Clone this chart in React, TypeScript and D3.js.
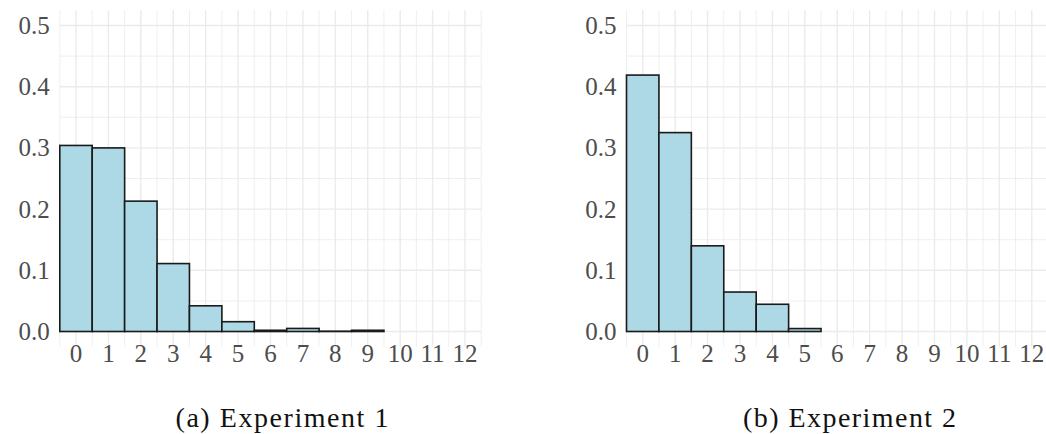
import React from "react";
import { scaleLinear, range } from "d3";

const bins = [0, 1, 2, 3, 4, 5, 6, 7, 8, 9, 10, 11, 12];
const exp1 = [0.304, 0.3, 0.213, 0.111, 0.042, 0.016, 0.002, 0.005, 0.0005, 0.002, 0, 0, 0];
const exp2 = [0.419, 0.325, 0.14, 0.0645, 0.0445, 0.0048, 0, 0, 0, 0, 0, 0, 0];
const yTicks = [0, 0.1, 0.2, 0.3, 0.4, 0.5];
const captions = ["(a) Experiment 1", "(b) Experiment 2"];

const W = 1046;
const H = 434;
const FONT = '"Liberation Serif", "Times New Roman", serif';
const GRID = "#ebebeb";

function Panel({ values, left, right }) {
  const x = scaleLinear().domain([-0.5, 12.5]).range([left, right]);
  const y = scaleLinear().domain([-0.025, 0.525]).range([346.8, 10.2]);
  const [y0, y1] = y.range();
  const minorX = range(-0.5, 13, 1);
  const minorY = range(0.05, 0.5, 0.1);

  return (
    <g>
      {minorY.map((v) => (
        <line key={"my" + v} x1={left} x2={right} y1={y(v)} y2={y(v)} stroke={GRID} strokeWidth={0.8} />
      ))}
      {minorX.map((v) => (
        <line key={"mx" + v} x1={x(v)} x2={x(v)} y1={y1} y2={y0} stroke={GRID} strokeWidth={0.8} />
      ))}
      {yTicks.map((v) => (
        <line key={"gy" + v} x1={left} x2={right} y1={y(v)} y2={y(v)} stroke={GRID} strokeWidth={1.4} />
      ))}
      {bins.map((b) => (
        <line key={"gx" + b} x1={x(b)} x2={x(b)} y1={y1} y2={y0} stroke={GRID} strokeWidth={1.4} />
      ))}

      {bins.map((b, i) =>
        values[i] > 0 ? (
          <rect
            key={"bar" + b}
            x={x(b - 0.5)}
            y={y(values[i])}
            width={x(b + 0.5) - x(b - 0.5)}
            height={y(0) - y(values[i])}
            fill="#ADD8E6"
            stroke="#1a1a1a"
            strokeWidth={1.6}
          />
        ) : null
      )}

      {yTicks.map((v) => (
        <text
          key={"ty" + v}
          x={left - 10}
          y={y(v)}
          dy="0.34em"
          textAnchor="end"
          style={{ fontFamily: FONT }}
          fontSize={25}
          fill="#4d4d4d"
        >
          {v.toFixed(1)}
        </text>
      ))}
      {bins.map((b) => (
        <text
          key={"tx" + b}
          x={x(b)}
          y={362}
          textAnchor="middle"
          style={{ fontFamily: FONT }}
          fontSize={25}
          fill="#4d4d4d"
        >
          {b}
        </text>
      ))}
    </g>
  );
}

export default function App() {
  return (
    <svg
      width={W}
      height={H}
      style={{ position: "absolute", left: 0, top: 0, background: "#fff" }}
    >
      <Panel values={exp1} left={59.8} right={481.2} />
      <Panel values={exp2} left={626.5} right={1048} />
      {[282.5, 850].map((cx, i) => (
        <text
          key={captions[i]}
          x={cx - 107}
          y={427}
          textLength={213}
          lengthAdjust="spacing"
          style={{ fontFamily: FONT }}
          fontSize={28}
          fill="#111"
        >
          {captions[i]}
        </text>
      ))}
    </svg>
  );
}
